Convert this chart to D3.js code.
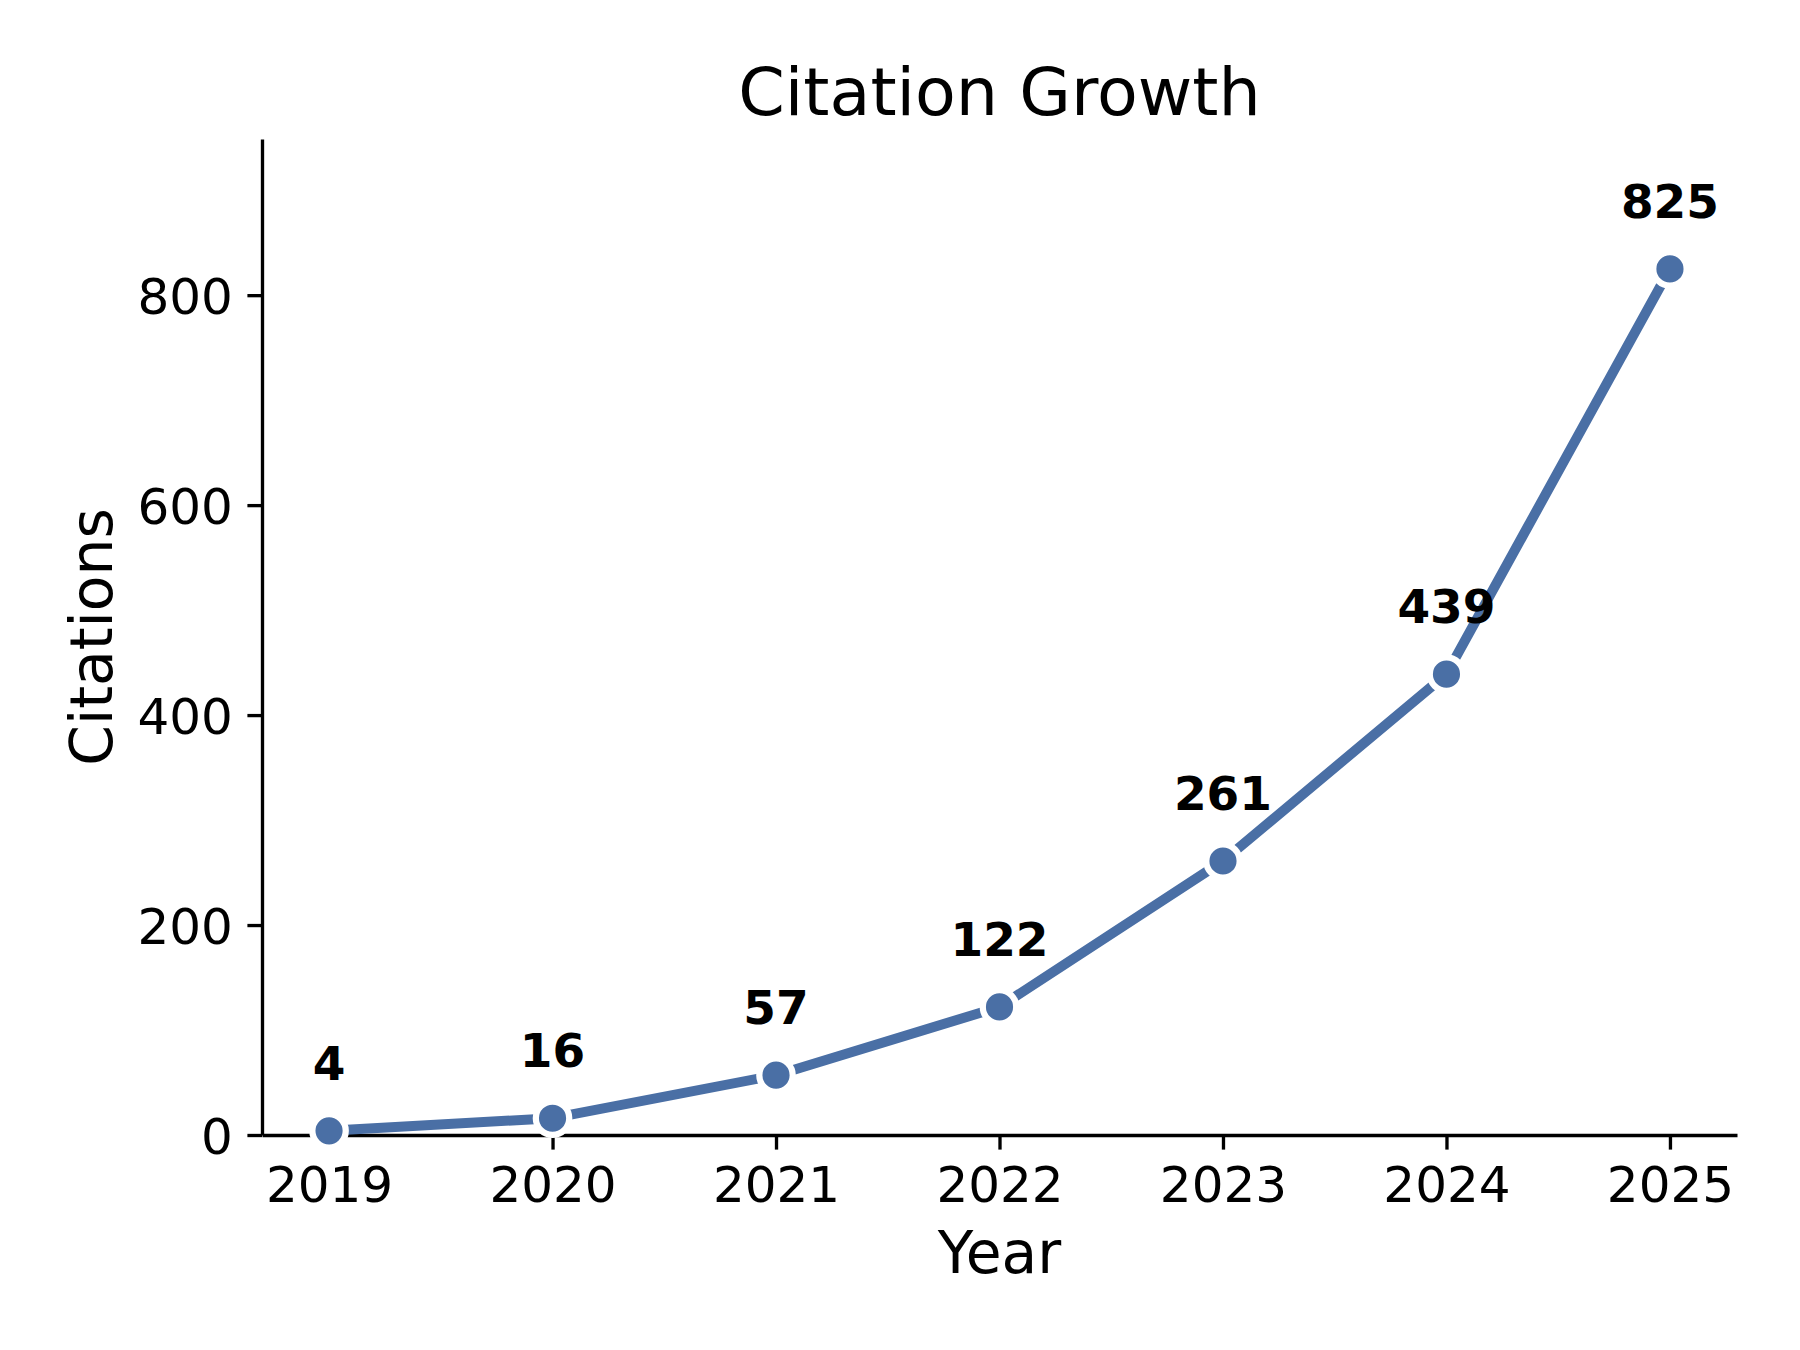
<!DOCTYPE html>
<html>
<head>
<meta charset="utf-8">
<title>Citation Growth</title>
<script src="https://cdn.jsdelivr.net/npm/d3@7"></script>
<style>
  html, body { margin: 0; padding: 0; background: #fff; }
  svg { display: block; font-family: "DejaVu Sans", sans-serif; }
</style>
</head>
<body>
<svg id="chart"></svg>
<script>
const years = [2019, 2020, 2021, 2022, 2023, 2024, 2025];
const citations = [4, 16, 57, 122, 261, 439, 825];
const yTicks = [0, 200, 400, 600, 800];
const titleText = "Citation Growth";
const xLabelText = "Year";
const yLabelText = "Citations";

const CitationChart = (function() {
  const defaultConfig = {
    width: 1800,
    height: 1350,
    margin: { top: 139, right: 63, bottom: 215, left: 262 },
    lineColor: "#4a6fa5",
    lineWidth: 10,
    markerRadius: 16.7,
    markerEdge: 6.25,
    axisWidth: 3.33,
    tickLength: 14.6,
    tickPad: 14.6
  };

  function render(containerId, config = {}) {
    const cfg = { ...defaultConfig, ...config };
    const { width, height } = cfg;

    const svg = d3.select(containerId)
      .attr("width", width)
      .attr("height", height);

    svg.append("rect")
      .attr("width", width)
      .attr("height", height)
      .attr("fill", "#fff");

    const xScale = createXScale(cfg);
    const yScale = createYScale(cfg);

    createXAxis(svg, xScale, cfg);
    createYAxis(svg, yScale, cfg);
    createLine(svg, xScale, yScale, cfg);
    createLabels(svg, cfg);
  }

  function createXScale(config) {
    const { width, margin } = config;
    const pad = (d3.max(years) - d3.min(years)) * 0.05;
    return d3.scaleLinear()
      .domain([d3.min(years) - pad, d3.max(years) + pad])
      .range([margin.left, width - margin.right]);
  }

  function createYScale(config) {
    const { height, margin } = config;
    return d3.scaleLinear()
      .domain([0, d3.max(citations) * 1.15])
      .range([height - margin.bottom, margin.top]);
  }

  function styleAxis(g, config, fontSize) {
    g.select(".domain")
      .attr("stroke", "#000")
      .attr("stroke-width", config.axisWidth);
    g.selectAll(".tick line")
      .attr("stroke", "#000")
      .attr("stroke-width", config.axisWidth);
    g.selectAll(".tick text")
      .attr("fill", "#000")
      .style("font-size", fontSize + "px")
      .style("font-family", "DejaVu Sans");
  }

  function createXAxis(svg, xScale, config) {
    const { height, margin } = config;
    const xAxis = d3.axisBottom(xScale)
      .tickValues(years)
      .tickFormat(d3.format("d"))
      .tickSize(config.tickLength)
      .tickSizeOuter(0)
      .tickPadding(config.tickPad);

    const g = svg.append("g")
      .attr("id", "x-axis")
      .attr("transform", `translate(0,${height - margin.bottom})`)
      .call(xAxis);
    styleAxis(g, config, 50);
    g.selectAll(".tick text").attr("dy", "0.75em");
  }

  function createYAxis(svg, yScale, config) {
    const { margin } = config;
    const yAxis = d3.axisLeft(yScale)
      .tickValues(yTicks)
      .tickFormat(d3.format("d"))
      .tickSize(config.tickLength)
      .tickSizeOuter(0)
      .tickPadding(config.tickPad);

    const g = svg.append("g")
      .attr("id", "y-axis")
      .attr("transform", `translate(${margin.left},0)`)
      .call(yAxis);
    styleAxis(g, config, 50);
    g.selectAll(".tick text").attr("dy", "0.36em");
  }

  function createLine(svg, xScale, yScale, config) {
    const data = years.map((y, i) => ({ year: y, value: citations[i] }));

    const line = d3.line()
      .x(d => xScale(d.year))
      .y(d => yScale(d.value));

    svg.append("path")
      .datum(data)
      .attr("d", line)
      .attr("fill", "none")
      .attr("stroke", config.lineColor)
      .attr("stroke-width", config.lineWidth)
      .attr("stroke-linejoin", "round");

    svg.selectAll(".point")
      .data(data)
      .enter()
      .append("circle")
      .attr("class", "point")
      .attr("cx", d => xScale(d.year))
      .attr("cy", d => yScale(d.value))
      .attr("r", config.markerRadius)
      .attr("fill", config.lineColor)
      .attr("stroke", "#fff")
      .attr("stroke-width", config.markerEdge);

    svg.selectAll(".value-label")
      .data(data)
      .enter()
      .append("text")
      .attr("class", "value-label")
      .attr("x", d => xScale(d.year))
      .attr("y", d => yScale(d.value) - 51)
      .attr("text-anchor", "middle")
      .style("font-size", "47px")
      .style("font-weight", "bold")
      .attr("fill", "#000")
      .text(d => d.value);
  }

  function createLabels(svg, config) {
    const { width, height, margin } = config;
    const cx = (margin.left + width - margin.right) / 2;
    const cy = (margin.top + height - margin.bottom) / 2;

    svg.append("text")
      .attr("x", cx)
      .attr("y", 115)
      .attr("text-anchor", "middle")
      .style("font-size", "66.7px")
      .attr("fill", "#000")
      .text(titleText);

    svg.append("text")
      .attr("x", cx)
      .attr("y", 1273)
      .attr("text-anchor", "middle")
      .style("font-size", "58.3px")
      .attr("fill", "#000")
      .text(xLabelText);

    svg.append("text")
      .attr("transform", `translate(112,${cy}) rotate(-90)`)
      .attr("text-anchor", "middle")
      .style("font-size", "58.3px")
      .attr("fill", "#000")
      .text(yLabelText);
  }

  return { render: render };
})();

CitationChart.render("#chart");
</script>
</body>
</html>
